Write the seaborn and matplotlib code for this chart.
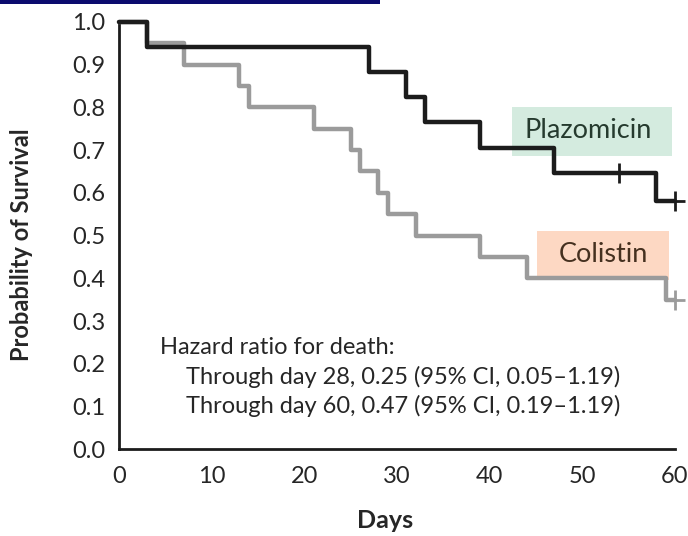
import matplotlib
matplotlib.use("Agg")
import matplotlib.pyplot as plt
import seaborn as sns
import pandas as pd
from matplotlib.patches import Rectangle

# ---- data ----
plazo_days = [0, 3, 27, 31, 33, 39, 47, 58, 60]
plazo_surv = [1.0, 0.941, 0.882, 0.824, 0.765, 0.706, 0.647, 0.582, 0.582]
plazo_censor_days = [54, 60]
plazo_censor_surv = [0.647, 0.582]

colistin_days = [0, 3, 7, 13, 14, 21, 25, 26, 28, 29, 32, 39, 44, 59, 60]
colistin_surv = [1.0, 0.95, 0.90, 0.85, 0.80, 0.75, 0.70, 0.65, 0.60, 0.55,
                 0.50, 0.45, 0.40, 0.35, 0.35]
colistin_censor_days = [60]
colistin_censor_surv = [0.35]

x_ticks = [0, 10, 20, 30, 40, 50, 60]
y_ticks = [0.0, 0.1, 0.2, 0.3, 0.4, 0.5, 0.6, 0.7, 0.8, 0.9, 1.0]

hr_lines = ["Hazard ratio for death:",
            "Through day 28, 0.25 (95% CI, 0.05\u20131.19)",
            "Through day 60, 0.47 (95% CI, 0.19\u20131.19)"]

sns.set_theme(style="white")
plt.rcParams["font.family"] = ["Lato", "DejaVu Sans"]

FS = 17
TXT = "#262626"
BLACK = "#1c1c1c"
GRAY = "#9b9b9b"

fig = plt.figure(figsize=(6.88, 5.36), dpi=100)
ax = fig.add_axes([0.173, 0.162, 0.808, 0.797])

plazo_df = pd.DataFrame({"day": plazo_days, "surv": plazo_surv})
col_df = pd.DataFrame({"day": colistin_days, "surv": colistin_surv})

# label boxes (beneath lines)
ax.add_patch(Rectangle((42.4, 0.687), 17.3, 0.113, facecolor="#d4ebdf",
                       edgecolor="none", zorder=1, clip_on=False))
ax.add_patch(Rectangle((45.1, 0.397), 14.3, 0.113, facecolor="#fdd8c3",
                       edgecolor="none", zorder=1, clip_on=False))

sns.lineplot(data=col_df, x="day", y="surv", ax=ax, color=GRAY, lw=3.2,
             drawstyle="steps-post", estimator=None, sort=False, zorder=3,
             clip_on=False)
sns.lineplot(data=plazo_df, x="day", y="surv", ax=ax, color=BLACK, lw=3.2,
             drawstyle="steps-post", estimator=None, sort=False, zorder=4,
             clip_on=False)

ax.plot(colistin_censor_days, colistin_censor_surv, ls="none", marker="+",
        ms=14, mew=2.0, color=GRAY, zorder=3, clip_on=False)
ax.plot(plazo_censor_days, plazo_censor_surv, ls="none", marker="+",
        ms=14, mew=2.0, color=BLACK, zorder=4, clip_on=False)

ax.text(50.6, 0.745, "Plazomicin", ha="center", va="center",
        fontsize=19.5, color="#253a2e", zorder=5)
ax.text(52.3, 0.455, "Colistin", ha="center", va="center",
        fontsize=19.5, color="#45301f", zorder=5)

ax.text(4.4, 0.239, hr_lines[0], ha="left", va="center", fontsize=FS, color=TXT)
ax.text(7.2, 0.168, hr_lines[1], ha="left", va="center", fontsize=FS, color=TXT)
ax.text(7.2, 0.101, hr_lines[2], ha="left", va="center", fontsize=FS, color=TXT)

ax.set_xlim(0, 60)
ax.set_ylim(0, 1.0)
ax.set_xticks(x_ticks)
ax.set_xticklabels([str(t) for t in x_ticks])
ax.set_yticks(y_ticks)
ax.set_yticklabels([f"{t:.1f}" for t in y_ticks])

for s in ["top", "right"]:
    ax.spines[s].set_visible(False)
for s in ["left", "bottom"]:
    ax.spines[s].set_linewidth(2.0)
    ax.spines[s].set_color(BLACK)
ax.tick_params(axis="both", direction="out", length=8, width=2.0,
               color=BLACK, labelsize=FS, labelcolor=TXT)
ax.tick_params(axis="y", pad=2)
ax.tick_params(axis="x", pad=4)

ax.set_xlabel("Days", fontsize=18, fontweight="bold", color=TXT)
ax.set_ylabel("Probability of Survival", fontsize=FS, fontweight="bold", color=TXT)
ax.xaxis.set_label_coords(0.478, -0.14)
ax.yaxis.set_label_coords(-0.155, 0.478)
ax.grid(False)

# thin navy header strip at the very top
fig.patches.append(Rectangle((0, 1 - 3.5 / 536), 380 / 688, 3.5 / 536,
                             transform=fig.transFigure, facecolor="#0b0b6e",
                             edgecolor="none"))

fig.savefig("out.png", dpi=100)
